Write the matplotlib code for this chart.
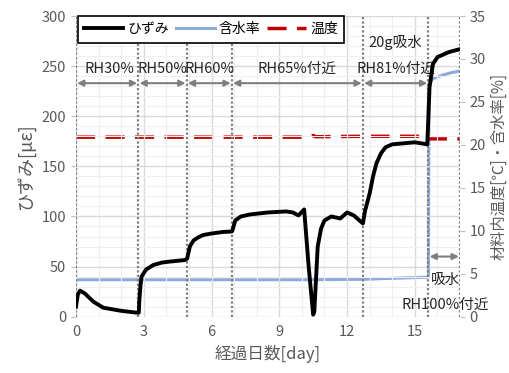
import numpy as np
import matplotlib
matplotlib.use("Agg")
import matplotlib.pyplot as plt
from matplotlib.ticker import MultipleLocator

plt.rcParams['font.family'] = ['Noto Sans CJK JP', 'DejaVu Sans']

# ひずみ [με]
t_strain = [0, 0.08, 0.18, 0.4, 0.77, 1.2, 1.95, 2.68, 2.78, 2.8, 2.85, 2.9, 3.1, 3.42, 3.8, 4.16, 4.82,
            4.92, 5.04, 5.2, 5.4, 5.63, 6.0, 6.5, 6.9, 6.95, 7.05, 7.3, 7.7, 8.5, 9.3, 9.6, 9.85, 10.1, 10.3, 10.5,
            10.55, 10.7, 10.85, 11.0, 11.3, 11.5, 11.7, 12.0, 12.3, 12.7, 12.8, 13.0, 13.15, 13.3, 13.5, 13.7,
            14.0, 14.5, 15.0, 15.55, 15.6, 15.65, 15.8, 16.0, 16.5, 17.0]
strain = [10, 22, 26, 23, 15, 9, 6, 4, 4, 15, 30, 40, 47, 51.5, 54, 55, 56.5,
          58, 70, 76, 79, 81.5, 83, 84.5, 85, 88, 96, 100, 102, 104, 105, 104, 101, 107, 50, 2,
          5, 70, 88, 96, 100, 99, 98, 104, 101, 93, 106, 123, 140, 153, 163, 169,
          172, 173, 174, 172, 200, 229, 252, 259, 264, 267]

# 含水率 [%]
t_moist = [0, 5, 10, 12.7, 15.55, 15.6, 15.63, 15.7, 15.8, 16.2, 16.6, 17.0]
moist = [4.3, 4.3, 4.3, 4.35, 4.6, 4.65, 26.8, 27.3, 27.7, 28.1, 28.4, 28.6]

# 温度 [℃]
t_temp = [0, 5, 10.3, 10.5, 10.6, 12.7, 15.55, 15.6, 17.0]
temp = [20.9, 20.9, 20.9, 21.1, 20.95, 21.0, 21.0, 20.7, 20.7]

# 区間境界と注記
bounds = [0, 2.76, 4.9, 6.9, 12.7, 15.6, 17.0]
rh_labels = ["RH30%", "RH50%", "RH60%", "RH65%付近", "RH81%付近"]

gray = '#595959'
fig = plt.figure(figsize=(5.1, 3.73), dpi=100)
ax = fig.add_axes([0.149, 0.151, 0.753, 0.806])
ax2 = ax.twinx()

ax.set_xlim(0, 17)
ax.set_ylim(0, 300)
ax2.set_ylim(0, 35)
ax.xaxis.set_major_locator(MultipleLocator(3))
ax.xaxis.set_minor_locator(MultipleLocator(1))
ax.yaxis.set_major_locator(MultipleLocator(50))
ax.yaxis.set_minor_locator(MultipleLocator(10))
ax2.yaxis.set_major_locator(MultipleLocator(5))

ax.grid(which='major', color='#d9d9d9', lw=1.0)
ax.grid(which='minor', color='#efefef', lw=0.8)
ax.set_axisbelow(True)

for a in (ax, ax2):
    for s in a.spines.values():
        s.set_visible(False)
ax.tick_params(axis='both', which='both', colors='#bfbfbf', labelcolor=gray, labelsize=10.5)
ax.tick_params(axis='x', which='both', length=0, pad=6)
ax.tick_params(axis='y', which='minor', length=0)
ax2.tick_params(axis='y', colors='#bfbfbf', labelcolor=gray, labelsize=10.5)

for b in bounds:
    ax.axvline(b, color='#7f7f7f', ls=(0, (1, 1)), lw=1.6, zorder=1)

h2, = ax2.plot(t_moist, moist, color='#8eaadb', lw=2.2, label='含水率')
h3, = ax2.plot(t_temp, temp, color='#c00000', lw=2.5, ls=(0, (5.5, 3)), label='温度')
h1, = ax.plot(t_strain, strain, color='black', lw=2.8, label='ひずみ', zorder=5,
              solid_joinstyle='round')
ax.set_zorder(ax2.get_zorder() + 1)
ax.patch.set_visible(False)

arrow_kw = dict(arrowstyle='<|-|>', color='#7f7f7f', lw=1.5, mutation_scale=9, shrinkA=0, shrinkB=0)
for i, lab in enumerate(rh_labels):
    ax.annotate('', xy=(bounds[i] + 0.05, 233), xytext=(bounds[i + 1] - 0.05, 233), arrowprops=arrow_kw)
    ax.text((bounds[i] + bounds[i + 1]) / 2 + (0.1 if i == 0 else 0), 247, lab,
            ha='center', va='center', fontsize=10.5, color='#262626')
ax.annotate('', xy=(bounds[5] + 0.05, 60), xytext=(bounds[6] - 0.05, 60), arrowprops=arrow_kw)
ax.text(14.12, 274, '20g吸水', ha='center', va='center', fontsize=10.5, color='#262626')
ax.text(16.37, 37, '吸水', ha='center', va='center', fontsize=10.5, color='#262626')
ax.text(16.33, 12, 'RH100%付近', ha='center', va='center', fontsize=10.5, color='#262626')

ax.set_xlabel('経過日数[day]', fontsize=12, color=gray, labelpad=4)
ax.set_ylabel('ひずみ[με]', fontsize=13, color=gray, labelpad=4)
ax2.set_ylabel('材料内温度[℃]・含水率[%]', fontsize=11, color=gray, labelpad=3)

leg = ax.legend(handles=[h1, h2, h3], loc='upper left', bbox_to_anchor=(0.005, 1.0),
                borderaxespad=0, ncol=3, fancybox=False, edgecolor='black', framealpha=1,
                handlelength=2.8, handletextpad=0.3, columnspacing=0.5, fontsize=10,
                borderpad=0.45)
leg.get_frame().set_linewidth(1.2)

fig.savefig('out.png', dpi=100)
